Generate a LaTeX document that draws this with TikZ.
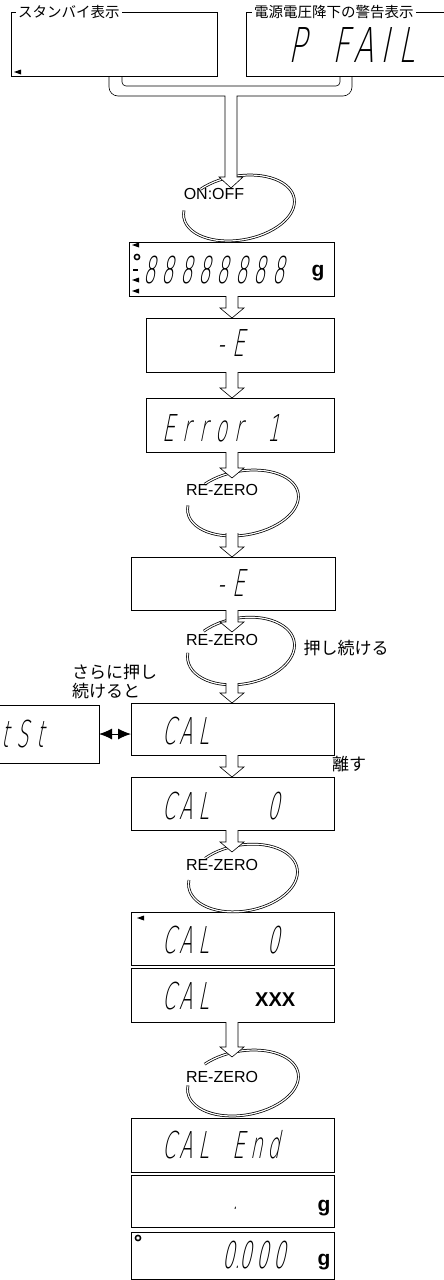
\documentclass[tikz,border=0pt]{standalone}
\usepackage{fontspec}
\setmainfont{Liberation Sans}
\newfontfamily\jp{Noto Sans CJK JP}
\newfontfamily\seg[FakeSlant=0.2,FakeStretch=0.52]{DejaVu Sans ExtraLight}
\newfontfamily\segB[FakeSlant=0.2,FakeStretch=0.62]{DejaVu Sans ExtraLight}
\usetikzlibrary{arrows.meta,calc}
\newlength\segw
\def\segloop#1{\ifx\relax#1\else\ifx.#1\makebox[0pt]{.}\else\makebox[\segw]{#1}\fi\expandafter\segloop\fi}
\newcommand\segs[2][17.5pt]{\setlength\segw{#1}\segloop#2\relax}
\newcommand\harr[3]{%
  \filldraw[harrow] let \p1=(#1), \p2=(#2) in
   (#3pt-6pt,\y1) -- (#3pt-6pt,\y2+10pt) -- (#3pt-12pt,\y2+10pt) -- (#3pt,\y2)
   -- (#3pt+12pt,\y2+10pt) -- (#3pt+6pt,\y2+10pt) -- (#3pt+6pt,\y1);}
\newcommand\rzloop[4]{%
  \draw[loopline, rotate around={10:(#1,#2)}] (#1,#2) ++(-128:#3 and #4)
    arc[start angle=-128, end angle=193, x radius=#3, y radius=#4];}
\newcommand\lmark[2]{\fill (#1,#2) -- ++(7,-2.5) -- ++(0,5) -- cycle;}
\begin{document}
\begin{tikzpicture}[x=1pt,y=-1pt,
  box/.style={draw, line width=0.6pt, anchor=north west, inner sep=0pt, outer sep=0pt},
  segtxt/.style={font=\seg\fontsize{37}{37}\selectfont, anchor=west, inner sep=0pt},
  bigseg/.style={font=\segB\fontsize{48}{48}\selectfont, anchor=west, inner sep=0pt},
  lbl/.style={font=\fontsize{16}{16}\selectfont, inner sep=0pt},
  gunit/.style={font=\bfseries\fontsize{21}{21}\selectfont, inner sep=0pt},
  jlbl/.style={font=\jp\fontsize{17}{19}\selectfont, inner sep=0pt, align=left},
  jtop/.style={font=\jp\fontsize{14.5}{14.5}\selectfont, inner sep=2pt, fill=white, anchor=west},
  loopline/.style={double, double distance=1.2pt, line width=0.75pt},
  harrow/.style={fill=white, line width=0.6pt},
  pipe/.style={line width=0.6pt}]
\useasboundingbox (0,0) rectangle (444,1280);

% top boxes
\node[box, minimum width=206pt, minimum height=64pt] (sb) at (11,12) {};
\node[box, minimum width=214pt, minimum height=64pt] (pf) at (246,12) {};
\node[jtop] (sbl) at (16,12) {スタンバイ表示};
\node[jtop] (pfl) at (252,12) {電源電圧降下の警告表示};
\node[bigseg] (pft) at (286,45) {\segs[22pt]{P~FAIL}};
\lmark{14}{72}

% ON:OFF loop
\rzloop{239}{208}{56}{32}
\node[lbl] (onoff) at (214,194) {ON:OFF};

% pipe
\fill[white] (225,96) -- (225,177) -- (219,177) -- (231,188) -- (243,177) -- (237,177) -- (237,96) -- cycle;
\draw[pipe] (109,76) -- (109,87) arc[start angle=180,end angle=90,radius=9] -- (225,96) -- (225,177)
  -- (219,177) -- (231,188) -- (243,177) -- (237,177) -- (237,96) -- (343,96)
  arc[start angle=90,end angle=0,radius=9] -- (352,76);
\draw[pipe] (122,76) -- (122,82) arc[start angle=180,end angle=90,radius=4] -- (336,86)
  arc[start angle=90,end angle=0,radius=4] -- (340,76);

% display boxes
\node[box, minimum width=205pt, minimum height=54pt] (b1) at (129,242) {};
\node[box, minimum width=188pt, minimum height=54pt] (b2) at (146,318) {};
\node[box, minimum width=188pt, minimum height=54pt] (b3) at (146,398) {};
\node[box, minimum width=204pt, minimum height=53pt] (b4) at (131,557) {};
\node[box, minimum width=203pt, minimum height=52pt] (cal) at (131,703) {};
\node[box, minimum width=203pt, minimum height=53pt] (cal0) at (131,777) {};
\node[box, minimum width=203pt, minimum height=53pt] (cal0b) at (131,912) {};
\node[box, minimum width=203pt, minimum height=54pt] (calx) at (131,968) {};
\node[box, minimum width=203pt, minimum height=54pt] (calend) at (131,1118) {};
\node[box, minimum width=203pt, minimum height=52pt] (dotg) at (131,1175) {};
\node[box, minimum width=203pt, minimum height=47pt] (zero) at (131,1232) {};
\node[box, minimum width=109pt, minimum height=58pt] (tst) at (-10,705) {};

% box texts
\node[segtxt] (t1) at (140,270) {\segs[18.4pt]{88888888}};
\node[gunit] (g1) at (318,273) {g};
\lmark{132}{245}\lmark{132}{280}\lmark{132}{291}
\draw[line width=1.2pt] (133,270) -- (138,270);
\draw[line width=1.5pt] (137,257) circle[radius=2.6];
\node[segtxt] (t2) at (160,343) {\segs{~~~-E}};
\node[segtxt] (t3) at (160,428) {\segs{Error~1}};
\node[segtxt] (t4) at (160,583) {\segs{~~~-E}};
\node[segtxt] (t5) at (160,731) {\segs{CAL}};
\node[segtxt] (t6) at (160,806) {\segs{CAL~~~0}};
\node[segtxt] (t7) at (160,940) {\segs{CAL~~~0}};
\lmark{137}{918}
\node[segtxt] (t8) at (160,996) {\segs{CAL}};
\node[gunit, anchor=west, font=\bfseries\fontsize{20}{20}\selectfont] (t8b) at (255,1000) {XXX};
\node[segtxt] (t9) at (160,1145) {\segs{CAL~End}};
\node[segtxt] (t10) at (232,1208) {.};
\node[gunit] (g10) at (324,1208) {g};
\node[segtxt] (t11) at (220,1255) {\segs[17pt]{0.000}};
\node[gunit] (g11) at (324,1262) {g};
\draw[line width=1.5pt] (138,1238) circle[radius=2.6];
\node[segtxt] (tt) at (-4,734) {\segs{tSt}};

% loops
\rzloop{243}{503}{56}{32}
\node[lbl] (rz1) at (222,490) {RE-ZERO};
\rzloop{241}{651}{54}{33}
\node[lbl] (rz2) at (222,640) {RE-ZERO};
\rzloop{243}{878}{55}{33}
\node[lbl] (rz3) at (222,865) {RE-ZERO};
\rzloop{243}{1083}{56}{32}
\node[lbl] (rz4) at (222,1077) {RE-ZERO};

% japanese labels
\node[jlbl] (push) at (346,648) {押し続ける};
\node[jlbl, anchor=west] (more) at (72,682) {さらに押し\\続けると};
\node[jlbl, anchor=west] (rel) at (332,764) {離す};

% coordinates for loop ends
\coordinate (l2t) at (232,478);
\coordinate (l2b) at (232,533);
\coordinate (l3t) at (232,632);
\coordinate (l3b) at (232,683);
\coordinate (l4t) at (232,852);
\coordinate (l5t) at (232,1057);

% hollow arrows
\harr{b1.south}{b2.north}{232}
\harr{b2.south}{b3.north}{232}
\harr{b3.south}{l2t}{232}
\harr{l2b}{b4.north}{232}
\harr{b4.south}{l3t}{232}
\harr{l3b}{cal.north}{232}
\harr{cal.south}{cal0.north}{232}
\harr{cal0.south}{l4t}{232}
\harr{calx.south}{l5t}{232}

% double arrow
\draw[{Latex[length=13pt,width=11pt]}-{Latex[length=13pt,width=11pt]}, line width=1pt]
  (tst.east) -- (cal.west |- tst.east);
\end{tikzpicture}
\end{document}
